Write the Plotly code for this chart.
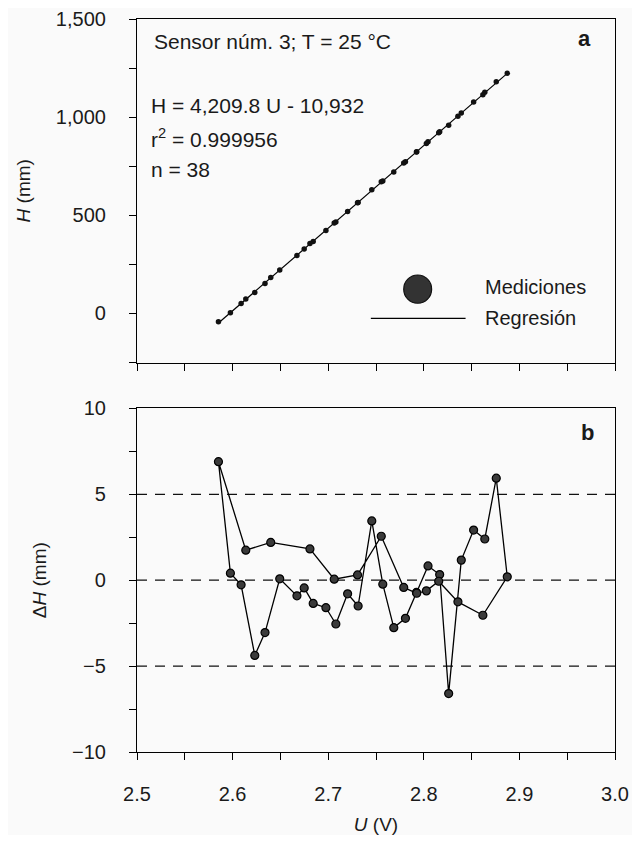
import plotly.graph_objects as go
from plotly.subplots import make_subplots

# ---- data ----
# regression coefficients printed on the chart
slope = 4209.8
intercept = -10932.0

# measurements in loop order: first branch (26 pts), then return branch (12 pts)
U_meas = [2.5852, 2.5977, 2.6089, 2.6232, 2.6339, 2.6493, 2.6673, 2.6749, 2.6843,
          2.6976, 2.7080, 2.7203, 2.7313, 2.7456, 2.7571, 2.7686, 2.7808, 2.7923,
          2.8044, 2.8166, 2.8260, 2.8392, 2.8521, 2.8638, 2.8758, 2.8873,
          2.8618, 2.8357, 2.8156, 2.8027, 2.7926, 2.7790, 2.7555, 2.7307,
          2.7063, 2.6809, 2.6399, 2.6138]
dH_meas = [6.90, 0.41, -0.27, -4.38, -3.05, 0.08, -0.91, -0.45, -1.35,
           -1.60, -2.55, -0.79, -1.50, 3.45, -0.23, -2.76, -2.22, -0.71,
           0.83, 0.33, -6.60, 1.17, 2.92, 2.40, 5.94, 0.20,
           -2.04, -1.26, -0.06, -0.62, -0.76, -0.42, 2.56, 0.31,
           0.06, 1.82, 2.20, 1.75]

H_meas = [slope * u + intercept + d for u, d in zip(U_meas, dH_meas)]
U_fit = [min(U_meas), max(U_meas)]
H_fit = [slope * u + intercept for u in U_fit]
ref_lines = [5, 0, -5]

x_ticks = [2.5, 2.6, 2.7, 2.8, 2.9, 3.0]
x_ticklabels = ["2.5", "2.6", "2.7", "2.8", "2.9", "3.0"]

FONT = "Liberation Sans, Arial, sans-serif"
INK = "#1a1a1a"

fig = make_subplots(rows=2, cols=1, shared_xaxes=False, vertical_spacing=0.0626)

# top panel
fig.add_trace(go.Scatter(x=U_fit, y=H_fit, mode="lines",
                         line=dict(color="black", width=1.2), showlegend=False), row=1, col=1)
fig.add_trace(go.Scatter(x=U_meas, y=H_meas, mode="markers",
                         marker=dict(size=5.5, color="#111"), showlegend=False), row=1, col=1)

# bottom panel: reference dashed lines
for v in ref_lines:
    fig.add_trace(go.Scatter(x=[2.5, 3.0], y=[v, v], mode="lines",
                             line=dict(color="#111", width=1.2, dash="10px,8px"),
                             showlegend=False, hoverinfo="skip"), row=2, col=1)
fig.add_trace(go.Scatter(x=U_meas + [U_meas[0]], y=dH_meas + [dH_meas[0]], mode="lines",
                         line=dict(color="black", width=1.3), showlegend=False), row=2, col=1)
fig.add_trace(go.Scatter(x=U_meas, y=dH_meas, mode="markers",
                         marker=dict(size=8, color="#3a3a3a", line=dict(color="black", width=1.2)),
                         showlegend=False), row=2, col=1)

axis_common = dict(showline=True, linecolor="black", linewidth=1.2, mirror=True,
                   ticks="outside", ticklen=7, tickwidth=1, tickcolor="black",
                   showgrid=False, zeroline=False, automargin=False,
                   ticklabeloverflow="allow",
                   tickfont=dict(family=FONT, size=20, color=INK))

fig.update_xaxes(range=[2.5, 3.0], tickvals=x_ticks, ticktext=x_ticklabels,
                 minor=dict(dtick=0.05, ticks="outside", ticklen=7, tickcolor="black"),
                 **axis_common)
fig.update_xaxes(showticklabels=False, row=1, col=1)
fig.update_xaxes(ticklabelstandoff=17, row=2, col=1,
                 title=dict(text="<i>U</i> (V)", standoff=22,
                            font=dict(family=FONT, size=19, color=INK)))

fig.update_yaxes(range=[-250, 1500], dtick=500, tick0=0, tickformat=",d",
                 minor=dict(dtick=250, ticks="outside", ticklen=7, tickcolor="black"),
                 ticklabelstandoff=19, row=1, col=1,
                 title=dict(text="<i>H</i> (mm)", standoff=20,
                            font=dict(family=FONT, size=19, color=INK)),
                 **axis_common)
fig.update_yaxes(range=[-10, 10], dtick=5, tick0=0,
                 minor=dict(dtick=2.5, ticks="outside", ticklen=7, tickcolor="black"),
                 ticklabelstandoff=19, row=2, col=1,
                 title=dict(text="Δ<i>H</i> (mm)", standoff=20,
                            font=dict(family=FONT, size=19, color=INK)),
                 **axis_common)

annos = [
    dict(x=2.516, y=1385, text="Sensor núm. 3; T = 25 °C", xanchor="left", size=21),
    dict(x=2.5128, y=1060, text="H = 4,209.8 U - 10,932", xanchor="left", size=21),
    dict(x=2.5128, y=896, text="r<sup>2</sup> = 0.999956", xanchor="left", size=21),
    dict(x=2.5128, y=733, text="n = 38", xanchor="left", size=21),
    dict(x=2.8615, y=137, text="Mediciones", xanchor="left", size=20),
    dict(x=2.8615, y=-25, text="Regresión", xanchor="left", size=20),
    dict(x=2.968, y=1400, text="<b>a</b>", xanchor="center", size=22),
]
for a in annos:
    size = a.pop("size")
    fig.add_annotation(xref="x", yref="y", showarrow=False, yanchor="middle",
                       font=dict(family=FONT, size=size, color=INK), **a)
fig.add_annotation(xref="x2", yref="y2", x=2.971, y=8.62, text="<b>b</b>", showarrow=False,
                   font=dict(family=FONT, size=22, color=INK))

# legend symbols drawn by hand (top panel)
fig.add_shape(type="circle", xref="x", yref="y", x0=2.7790, x1=2.8082, y0=52, y1=196,
              fillcolor="#333333", line=dict(color="#111", width=1.2))
fig.add_shape(type="line", xref="x", yref="y", x0=2.7446, x1=2.8437, y0=-25, y1=-25,
              line=dict(color="black", width=1.2))

# page body has an 8px default margin: size the figure to fit inside it
fig.update_layout(
    width=624, height=827,
    margin=dict(l=128.7, r=16.5, t=11, b=82.7, autoexpand=False),
    paper_bgcolor="#fafafa", plot_bgcolor="#fafafa",
    font=dict(family=FONT, color=INK),
)
fig.write_html("out.html")
